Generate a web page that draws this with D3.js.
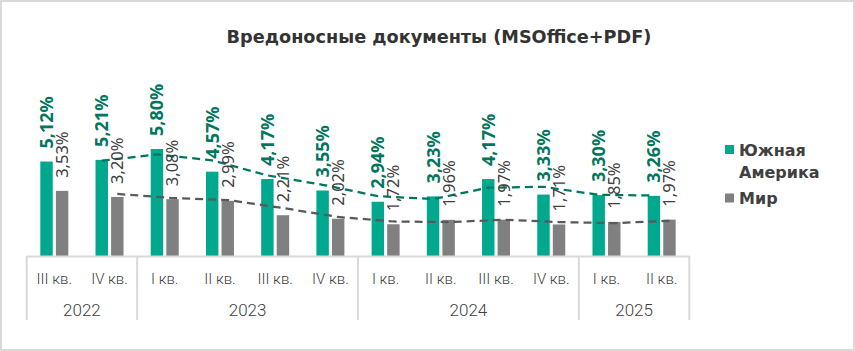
<!DOCTYPE html>
<html>
<head>
<meta charset="utf-8">
<script src="https://cdn.jsdelivr.net/npm/d3@7"></script>
<style>
  html, body { margin: 0; padding: 0; background: #fff; }
  svg { display: block; }
</style>
</head>
<body>
<svg width="855" height="351"></svg>
<script>
const svg = d3.select("svg"),
    width = +svg.attr("width"),
    height = +svg.attr("height");

// quarters and years on the axis
const quarters = ["III кв.", "IV кв.", "I кв.", "II кв.", "III кв.", "IV кв.",
    "I кв.", "II кв.", "III кв.", "IV кв.", "I кв.", "II кв."];
const years = ["2022", "2023", "2024", "2025"];
const quartersPerYear = [2, 4, 4, 2];

// share of users, %
const southAmerica = [5.12, 5.21, 5.80, 4.57, 4.17, 3.55, 2.94, 3.23, 4.17, 3.33, 3.30, 3.26];
const world = [3.53, 3.20, 3.08, 2.99, 2.21, 2.02, 1.72, 1.96, 1.97, 1.71, 1.85, 1.97];

// 2-period moving average trend lines (first point has none)
const trendSouthAmerica = [null, 5.165, 5.505, 5.185, 4.37, 3.86, 3.245, 3.085, 3.70, 3.75, 3.315, 3.28];
const trendWorld = [null, 3.365, 3.14, 3.035, 2.60, 2.115, 1.87, 1.84, 1.965, 1.84, 1.78, 1.91];

const seriesNames = ["Южная Америка", "Мир"];

const green = "#00a88e",
    greenDark = "#00765e",
    grey = "#808080",
    greyDark = "#595959",
    textCol = "#404040",
    gridCol = "#d9d9d9";

// outer frame
svg.append("rect")
    .attr("x", 1).attr("y", 1)
    .attr("width", width - 2).attr("height", height - 2)
    .attr("fill", "none")
    .attr("stroke", gridCol)
    .attr("stroke-width", 2);

const title = svg.append("text")
    .attr("x", 439).attr("y", 43)
    .attr("text-anchor", "middle")
    .attr("font-family", "DejaVu Sans")
    .attr("font-weight", "bold")
    .attr("font-size", 17)
    .attr("fill", "#333")
    .text("Вредоносные документы (MSOffice+PDF)");
// fit title to its width in the original
title.attr("font-size", 17 * 425 / title.node().getComputedTextLength());

const x = d3.scaleBand()
    .domain(d3.range(quarters.length))
    .range([26.7, 689.3]);

const xSub = d3.scaleBand()
    .domain([0, 1])
    .range([x.bandwidth() / 2 - 14, x.bandwidth() / 2 + 14])
    .paddingInner(0.2);

const y = d3.scaleLinear()
    .domain([0, 7])
    .range([256, 256 - 7 * 18.45]);

const series = [
    { values: southAmerica, trend: trendSouthAmerica, fill: green, line: greenDark },
    { values: world, trend: trendWorld, fill: grey, line: greyDark }
];

// bars
series.forEach((s, si) => {
    svg.append("g")
        .selectAll("rect")
        .data(s.values)
        .join("rect")
        .attr("x", (d, i) => x(i) + xSub(si))
        .attr("y", d => y(d))
        .attr("width", xSub.bandwidth())
        .attr("height", d => y(0) - y(d))
        .attr("fill", s.fill);
});

// trend lines
series.forEach((s, si) => {
    const line = d3.line()
        .defined(d => d != null)
        .x((d, i) => x(i) + xSub(si) + xSub.bandwidth() / 2)
        .y(d => y(d));
    svg.append("path")
        .datum(s.trend)
        .attr("d", line)
        .attr("fill", "none")
        .attr("stroke", s.line)
        .attr("stroke-width", 2.25)
        .attr("stroke-dasharray", "8,5");
});

// value labels
const fmt = v => v.toFixed(2).replace(".", ",") + "%";
series.forEach((s, si) => {
    svg.append("g")
        .selectAll("text")
        .data(s.values)
        .join("text")
        .attr("transform", (d, i) => {
            const cx = x(i) + xSub(si) + xSub.bandwidth() / 2;
            return `translate(${cx},${y(d) - 13}) rotate(-90)`;
        })
        .attr("dy", "0.36em")
        .attr("font-family", "Noto Sans")
        .attr("font-weight", si === 0 ? "bold" : "normal")
        .attr("font-size", si === 0 ? 18 : 16.5)
        .attr("fill", si === 0 ? greenDark : textCol)
        .text(fmt);
});

// axis
const axis = svg.append("g");
axis.append("line")
    .attr("x1", x.range()[0]).attr("x2", x.range()[1])
    .attr("y1", 256.5).attr("y2", 256.5)
    .attr("stroke", gridCol).attr("stroke-width", 2);

axis.selectAll(".q")
    .data(quarters)
    .join("text")
    .attr("class", "q")
    .attr("x", (d, i) => x(i) + x.bandwidth() / 2)
    .attr("y", 283.5)
    .attr("text-anchor", "middle")
    .attr("font-family", "Roboto")
    .attr("font-weight", 300)
    .attr("font-size", 15)
    .attr("fill", textCol)
    .text(d => d);

const bounds = [0];
quartersPerYear.forEach(n => bounds.push(bounds[bounds.length - 1] + n));
const edgeX = k => k < quarters.length ? x(k) : x.range()[1];

axis.selectAll(".sep")
    .data(bounds)
    .join("line")
    .attr("class", "sep")
    .attr("x1", edgeX).attr("x2", edgeX)
    .attr("y1", 256).attr("y2", 320)
    .attr("stroke", gridCol).attr("stroke-width", 2);

axis.selectAll(".yr")
    .data(years)
    .join("text")
    .attr("class", "yr")
    .attr("x", (d, i) => (edgeX(bounds[i]) + edgeX(bounds[i + 1])) / 2)
    .attr("y", 316)
    .attr("text-anchor", "middle")
    .attr("font-family", "Roboto")
    .attr("font-weight", 300)
    .attr("font-size", 17)
    .attr("fill", textCol)
    .text(d => d);

// legend
const legend = svg.append("g").attr("font-family", "DejaVu Sans")
    .attr("font-weight", "bold").attr("font-size", 16).attr("fill", textCol);
legend.append("rect").attr("x", 725).attr("y", 145).attr("width", 9).attr("height", 9).attr("fill", green);
legend.append("text").attr("x", 739).attr("y", 156).text(seriesNames[0].split(" ")[0]);
legend.append("text").attr("x", 739).attr("y", 177.5).text(seriesNames[0].split(" ")[1]);
legend.append("rect").attr("x", 725).attr("y", 193.5).attr("width", 9).attr("height", 9).attr("fill", grey);
legend.append("text").attr("x", 739).attr("y", 204).text(seriesNames[1]);
</script>
</body>
</html>
